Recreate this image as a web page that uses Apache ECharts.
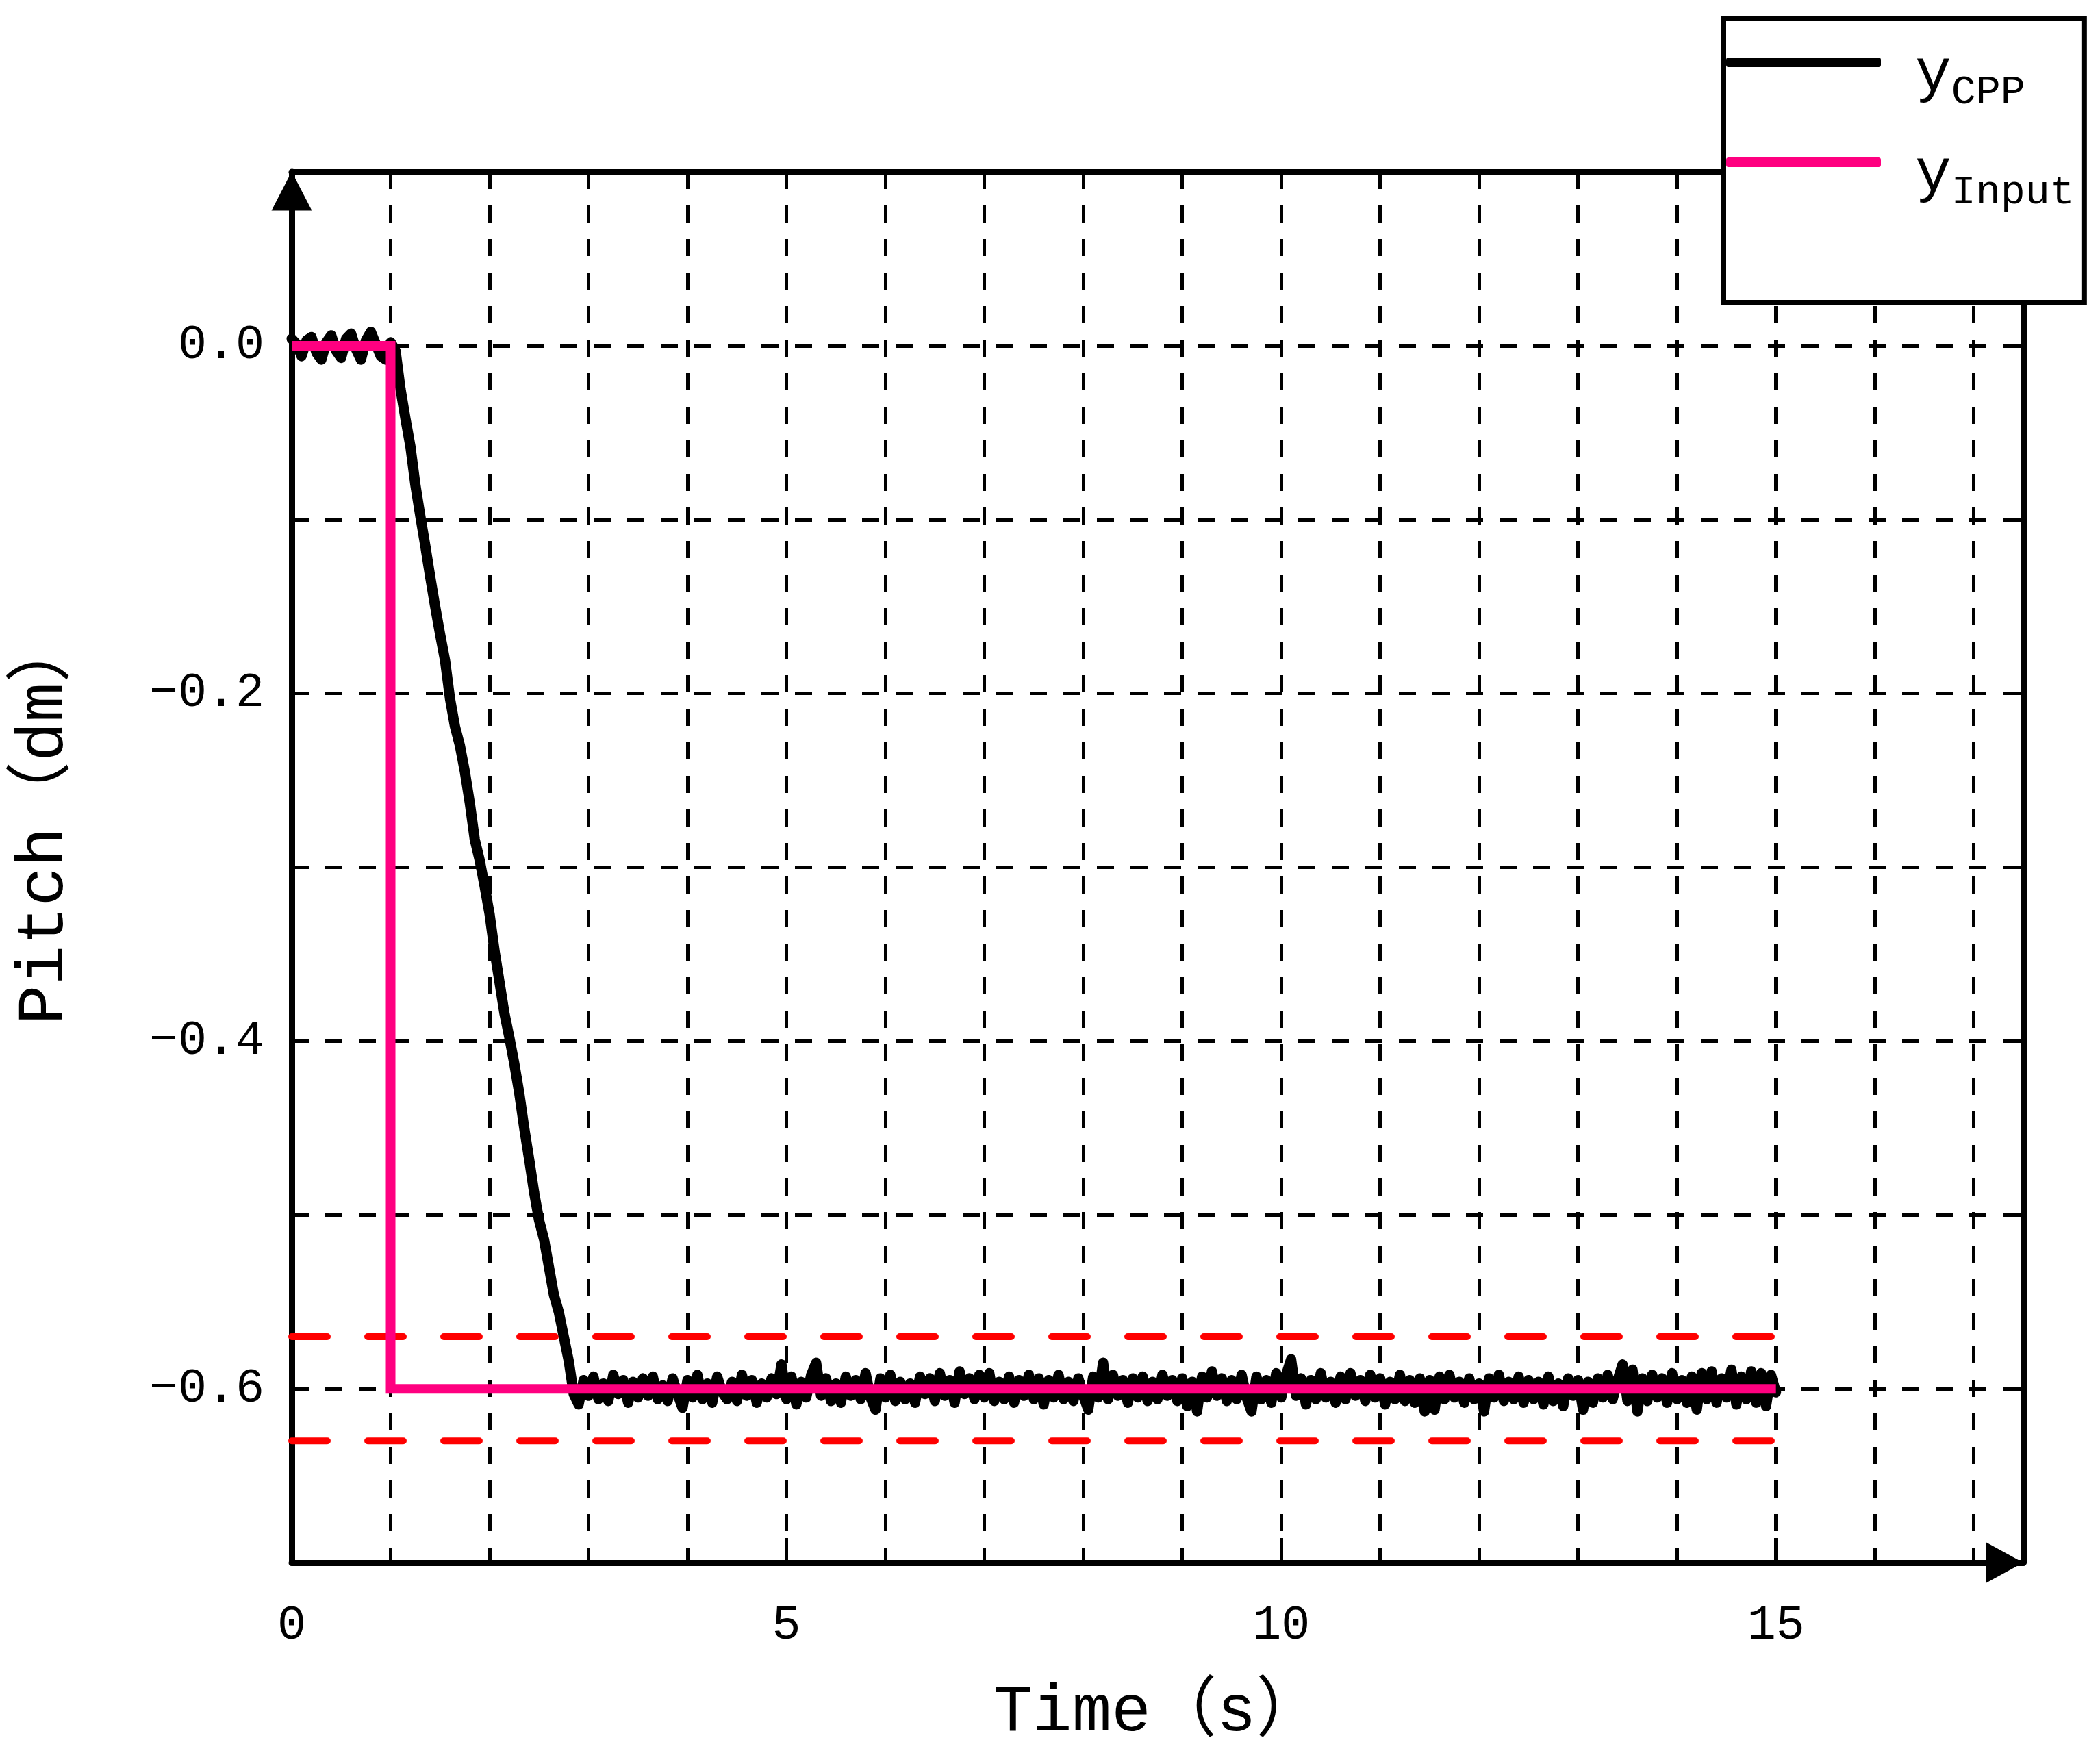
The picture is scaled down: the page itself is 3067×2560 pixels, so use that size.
<!DOCTYPE html>
<html>
<head>
<meta charset="utf-8">
<script src="https://cdn.jsdelivr.net/npm/echarts@6/dist/echarts.min.js"></script>
<style>
  html, body { margin: 0; padding: 0; background: #ffffff; }
  #chart { width: 3067px; height: 2560px; }
</style>
</head>
<body>
<div id="chart"></div>
<script>
// ---------------- data ----------------
const seriesNames = ['yCPP', 'yInput'];
const legendMain = ['y', 'y'];
const legendSub = ['CPP', 'Input'];

const xMin = 0, xMax = 17.5;
const yMin = -0.7, yMax = 0.1;
const xLabelValues = [0, 5, 10, 15];
const yLabelValues = [0, -0.2, -0.4, -0.6];
const yLabelTexts = ['0.0', '\u22120.2', '\u22120.4', '\u22120.6'];

// input step signal
const inputT = [0, 1, 1, 15];
const inputY = [0, 0, -0.6, -0.6];

// +/-5% band around the set point
const bandT = [0, 15];
const bandUpper = [-0.57, -0.57];
const bandLower = [-0.63, -0.63];

// measured CPP response, sampled every 0.05 s from t = 0 to t = 15
const cppT0 = 0;
const cppDt = 0.05;
const cppY = [
  0.004,0.001,-0.006,0.003,0.005,-0.004,-0.008,0.002,0.006,-0.003,
  -0.007,0.004,0.007,-0.002,-0.008,0.003,0.008,0.001,-0.006,-0.008,
  0.002,
  -0.003,-0.025,-0.042,-0.058,-0.080,-0.098,-0.115,-0.133,-0.150,-0.166,
  -0.181,-0.203,-0.219,-0.230,-0.245,-0.263,-0.284,-0.296,-0.311,-0.327,
  -0.348,-0.366,-0.384,-0.398,-0.413,-0.430,-0.450,-0.468,-0.487,-0.503,
  -0.514,-0.530,-0.546,-0.556,-0.570,-0.584,-0.603,
  -0.609,-0.595,-0.604,-0.593,-0.606,-0.597,-0.607,-0.592,-0.603,-0.595,
  -0.608,-0.596,-0.605,-0.594,-0.604,-0.593,-0.606,-0.598,-0.607,-0.594,-0.603,-0.611,
  -0.595,-0.605,-0.592,-0.606,-0.597,-0.608,-0.593,-0.602,-0.606,-0.596,
  -0.607,-0.592,-0.604,-0.595,-0.608,-0.597,-0.605,-0.594,-0.603,-0.586,
  -0.606,-0.593,-0.609,-0.596,-0.605,-0.592,-0.585,-0.604,-0.594,-0.607,
  -0.597,-0.608,-0.593,-0.604,-0.595,-0.606,-0.591,-0.605,-0.612,-0.594,
  -0.605,-0.592,-0.607,-0.596,-0.606,-0.597,-0.608,-0.593,-0.603,-0.594,
  -0.607,-0.591,-0.604,-0.595,-0.608,-0.590,-0.603,-0.594,-0.606,-0.592,
  -0.605,-0.591,-0.607,-0.596,-0.606,-0.593,-0.608,-0.595,-0.604,-0.592,
  -0.606,-0.594,-0.609,-0.595,-0.605,-0.592,-0.606,-0.596,-0.607,-0.594,
  -0.604,-0.612,-0.593,-0.605,-0.585,-0.606,-0.592,-0.604,-0.595,-0.608,
  -0.594,-0.605,-0.593,-0.607,-0.596,-0.606,-0.592,-0.604,-0.595,-0.607,
  -0.594,-0.610,-0.596,-0.613,-0.593,-0.605,-0.590,-0.604,-0.594,-0.607,
  -0.595,-0.606,-0.592,-0.605,-0.613,-0.593,-0.606,-0.595,-0.608,-0.591,
  -0.605,-0.592,-0.583,-0.604,-0.594,-0.609,-0.595,-0.606,-0.591,-0.605,
  -0.596,-0.608,-0.593,-0.606,-0.591,-0.604,-0.595,-0.607,-0.592,-0.605,
  -0.594,-0.609,-0.596,-0.606,-0.592,-0.607,-0.595,-0.608,-0.594,-0.613,
  -0.595,-0.612,-0.593,-0.606,-0.592,-0.605,-0.596,-0.608,-0.594,-0.606,
  -0.597,-0.613,-0.594,-0.605,-0.592,-0.607,-0.596,-0.606,-0.593,-0.608,
  -0.595,-0.606,-0.596,-0.609,-0.593,-0.607,-0.597,-0.610,-0.594,-0.604,
  -0.595,-0.612,-0.596,-0.608,-0.594,-0.605,-0.592,-0.606,-0.595,-0.586,
  -0.607,-0.589,-0.613,-0.594,-0.607,-0.592,-0.605,-0.594,-0.608,-0.591,
  -0.606,-0.595,-0.608,-0.593,-0.612,-0.591,-0.606,-0.590,-0.608,-0.594,
  -0.605,-0.589,-0.609,-0.593,-0.606,-0.590,-0.608,-0.591,-0.610,-0.592,-0.602
];

// ---------------- build ----------------
const cppData = cppY.map((v, i) => [+(cppT0 + i * cppDt).toFixed(2), v]);
const inputData = inputT.map((t, i) => [t, inputY[i]]);
const upperData = bandT.map((t, i) => [t, bandUpper[i]]);
const lowerData = bandT.map((t, i) => [t, bandLower[i]]);

const FONT = "'Liberation Mono', 'Noto Sans CJK SC', monospace";
const AX_W = 9;
const gridDash = { color: '#000', width: 5, type: [25, 24] };

const chart = echarts.init(document.getElementById('chart'), null, { renderer: 'canvas' });

const option = {
  animation: false,
  backgroundColor: '#ffffff',
  grid: { left: 426, right: 112, top: 251, bottom: 278, containLabel: false },
  legend: {
    data: seriesNames,
    orient: 'vertical',
    left: 2517,
    top: 27,
    padding: [38, 14, 131, 4],
    itemGap: 46,
    itemWidth: 226,
    itemHeight: 14,
    icon: 'roundRect',
    selectedMode: false,
    backgroundColor: '#ffffff',
    borderColor: '#000000',
    borderWidth: 8,
    borderRadius: 0,
    formatter: function (name) {
      const i = seriesNames.indexOf(name);
      return '{m|' + legendMain[i] + '}{s|' + legendSub[i] + '}';
    },
    textStyle: {
      fontFamily: FONT,
      color: '#000',
      rich: {
        m: { fontFamily: FONT, fontSize: 88, color: '#000', padding: [18, 0, -18, 45] },
        s: { fontFamily: FONT, fontSize: 60, color: '#000', padding: [44, 0, -44, 0] }
      }
    }
  },
  xAxis: [
    {
      type: 'value', min: xMin, max: xMax, interval: 1, position: 'bottom',
      name: 'Time\uFF08s\uFF09', nameLocation: 'middle', nameGap: 172,
      nameTextStyle: { fontFamily: FONT, fontSize: 96, color: '#000' },
      axisLine: { show: true, onZero: false, symbol: ['none', 'triangle'], symbolSize: [59, 54], symbolOffset: [0, -27],
                  lineStyle: { color: '#000', width: AX_W } },
      axisTick: { show: true, inside: true, length: 20, lineStyle: { color: '#000', width: 5 } },
      axisLabel: { show: true, margin: 57, fontFamily: FONT, fontSize: 70, color: '#000',
                   formatter: function (v) { return xLabelValues.some(l => Math.abs(l - v) < 1e-6) ? String(v) : ''; } },
      splitLine: { show: true, lineStyle: gridDash }
    },
    {
      type: 'value', min: xMin, max: xMax, interval: 1, position: 'top',
      axisLine: { show: true, onZero: false, lineStyle: { color: '#000', width: AX_W } },
      axisTick: { show: true, inside: true, length: 25, lineStyle: { color: '#000', width: 5 } },
      axisLabel: { show: false },
      splitLine: { show: false }
    },
    {
      type: 'value', min: xMin, max: xMax, interval: 5, position: 'bottom',
      axisLine: { show: false, onZero: false },
      axisTick: { show: true, inside: true, length: 36, lineStyle: { color: '#000', width: 5 } },
      axisLabel: { show: false },
      splitLine: { show: false }
    }
  ],
  yAxis: [
    {
      type: 'value', min: yMin, max: yMax, interval: 0.1, position: 'left',
      name: 'Pitch\uFF08dm\uFF09', nameLocation: 'middle', nameGap: 312, nameRotate: 90,
      nameTextStyle: { fontFamily: FONT, fontSize: 96, color: '#000', padding: [0, 0, 0, 136] },
      axisLine: { show: true, onZero: false, symbol: ['none', 'triangle'], symbolSize: [59, 57], symbolOffset: [0, -28],
                  lineStyle: { color: '#000', width: AX_W } },
      axisTick: { show: true, inside: true, length: 22, lineStyle: { color: '#000', width: 5 } },
      axisLabel: { show: true, margin: 40, fontFamily: FONT, fontSize: 70, color: '#000',
                   formatter: function (v) {
                     const k = yLabelValues.findIndex(l => Math.abs(l - v) < 1e-6);
                     return k >= 0 ? yLabelTexts[k] : '';
                   } },
      splitLine: { show: true, lineStyle: gridDash }
    },
    {
      type: 'value', min: yMin, max: yMax, interval: 0.1, position: 'right',
      axisLine: { show: true, onZero: false, lineStyle: { color: '#000', width: AX_W } },
      axisTick: { show: true, inside: true, length: 22, lineStyle: { color: '#000', width: 5 } },
      axisLabel: { show: false },
      splitLine: { show: false }
    }
  ],
  series: [
    {
      name: 'bandUpper', type: 'line', data: upperData, xAxisIndex: 0, yAxisIndex: 0,
      showSymbol: false, symbol: 'none', silent: true,
      lineStyle: { color: '#ff0000', width: 10, type: [52, 59], cap: 'round' }
    },
    {
      name: 'bandLower', type: 'line', data: lowerData, xAxisIndex: 0, yAxisIndex: 0,
      showSymbol: false, symbol: 'none', silent: true,
      lineStyle: { color: '#ff0000', width: 10, type: [52, 59], cap: 'round' }
    },
    {
      name: seriesNames[0], type: 'line', data: cppData, xAxisIndex: 0, yAxisIndex: 0,
      showSymbol: false, symbol: 'none', sampling: null,
      itemStyle: { color: '#000000' },
      lineStyle: { color: '#000000', width: 15, join: 'round', cap: 'round' }
    },
    {
      name: seriesNames[1], type: 'line', data: inputData, xAxisIndex: 0, yAxisIndex: 0,
      showSymbol: false, symbol: 'none',
      itemStyle: { color: '#ff0080' },
      lineStyle: { color: '#ff0080', width: 14, join: 'miter' }
    }
  ]
};

chart.setOption(option);
</script>
</body>
</html>
